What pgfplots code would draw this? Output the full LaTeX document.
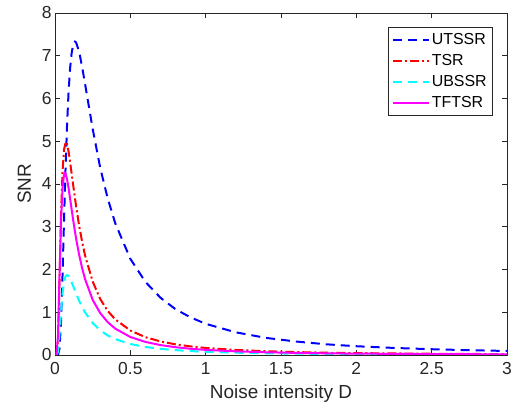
\documentclass[border=0pt]{standalone}
\usepackage{fontspec}
\setmainfont{Liberation Sans}
\usepackage{pgfplots}
\pgfplotsset{compat=1.18}
\usetikzlibrary{calc}
\definecolor{axgray}{rgb}{0.15,0.15,0.15}
\definecolor{mblue}{rgb}{0,0,1}
\definecolor{mred}{rgb}{1,0,0}
\definecolor{mcyan}{rgb}{0,1,1}
\definecolor{mmag}{rgb}{1,0,1}
\begin{document}
\begin{tikzpicture}
\begin{axis}[
  scale only axis,
  width=452bp, height=342bp,
  xmin=0, xmax=3, ymin=0, ymax=8,
  xtick={0,0.5,1,1.5,2,2.5,3},
  ytick={0,1,2,3,4,5,6,7,8},
  xticklabels={0,0.5,1,1.5,2,2.5,3},
  tick align=inside,
  major tick length=5bp,
  axis line style={axgray, line width=0.6pt},
  tick style={axgray, line width=0.6pt},
  every tick label/.append style={text=axgray, font=\fontsize{17.5}{19}\selectfont},
  xticklabel style={yshift=-4bp},
  /pgf/number format/assume math mode=true,
  xlabel={Noise intensity D},
  ylabel={SNR},
  label style={text=axgray, font=\fontsize{19}{21}\selectfont},
  xlabel style={yshift=-3bp},
  ylabel style={yshift=4bp},
  legend style={at={(rel axis cs:1,1)}, anchor=north east, xshift=-14bp, yshift=-14bp,
    draw=axgray, line width=0.6pt, font=\fontsize{16}{18}\selectfont, text=black,
    row sep=4.5bp, inner sep=4bp, inner xsep=4bp},
  legend cell align=left,
  legend image code/.code={\draw[#1] (0bp,0bp) -- (36bp,0bp);},
]
\addplot[mblue, line width=2pt, dash pattern=on 9bp off 6bp] coordinates {
(0.01,0) (0.02,0.004) (0.03,0.15) (0.04,0.77) (0.05,1.87) (0.06,3.16) (0.07,4.37)
(0.08,5.38) (0.09,6.15) (0.10,6.70) (0.11,7.05) (0.12,7.25) (0.133,7.33) (0.14,7.31)
(0.16,7.10) (0.18,6.74) (0.20,6.33) (0.25,5.29) (0.30,4.38) (0.35,3.66) (0.40,3.08)
(0.50,2.25) (0.60,1.71) (0.70,1.34) (0.80,1.07) (0.90,0.88) (1.0,0.73) (1.2,0.53)
(1.4,0.40) (1.6,0.315) (1.8,0.25) (2.0,0.205) (2.25,0.165) (2.5,0.135) (2.75,0.112) (3.0,0.094)
};
\addlegendentry{UTSSR}
\addplot[mred, line width=2pt, dash pattern=on 9bp off 3bp on 2bp off 3bp] coordinates {
(0.005,0) (0.01,0.001) (0.02,0.36) (0.03,1.75) (0.04,3.26) (0.05,4.29) (0.06,4.81) (0.072,4.99)
(0.08,4.93) (0.09,4.76) (0.10,4.52) (0.12,3.99) (0.14,3.48) (0.16,3.03) (0.18,2.65)
(0.20,2.32) (0.25,1.72) (0.30,1.31) (0.35,1.03) (0.40,0.833) (0.50,0.573) (0.60,0.417)
(0.70,0.317) (0.80,0.249) (0.90,0.201) (1.0,0.165) (1.2,0.118) (1.4,0.088) (1.6,0.068)
(1.8,0.054) (2.0,0.044) (2.5,0.029) (3.0,0.020)
};
\addlegendentry{TSR}
\addplot[mcyan, line width=2pt, dash pattern=on 9bp off 6bp] coordinates {
(0.01,0) (0.02,0.074) (0.03,0.475) (0.04,1.01) (0.05,1.44) (0.06,1.71) (0.07,1.84) (0.08,1.87)
(0.09,1.85) (0.10,1.79) (0.12,1.62) (0.14,1.44) (0.16,1.27) (0.18,1.12) (0.20,0.994)
(0.25,0.747) (0.30,0.577) (0.35,0.457) (0.40,0.371) (0.50,0.257) (0.60,0.188)
(0.70,0.144) (0.80,0.113) (0.90,0.0915) (1.0,0.0754) (1.2,0.0538) (1.4,0.0403)
(1.6,0.0313) (1.8,0.025) (2.0,0.0204) (2.5,0.0133) (3.0,0.0093)
};
\addlegendentry{UBSSR}
\addplot[mmag, line width=2pt] coordinates {
(0.005,0) (0.01,0.003) (0.02,0.466) (0.03,1.87) (0.04,3.16) (0.05,3.91) (0.06,4.22) (0.066,4.26)
(0.07,4.24) (0.08,4.11) (0.09,3.91) (0.10,3.66) (0.12,3.17) (0.14,2.72) (0.16,2.35)
(0.18,2.03) (0.20,1.77) (0.25,1.29) (0.30,0.981) (0.35,0.768) (0.40,0.616) (0.50,0.421)
(0.60,0.306) (0.70,0.232) (0.80,0.182) (0.90,0.146) (1.0,0.120) (1.2,0.085) (1.4,0.064)
(1.6,0.049) (1.8,0.039) (2.0,0.032) (2.5,0.021) (3.0,0.015)
};
\addlegendentry{TFTSR}
\end{axis}
\pgfresetboundingbox
\path[use as bounding box] ($(current axis.south west)+(-55bp,-55bp)$) rectangle ($(current axis.north east)+(8bp,13bp)$);
\end{tikzpicture}
\end{document}
